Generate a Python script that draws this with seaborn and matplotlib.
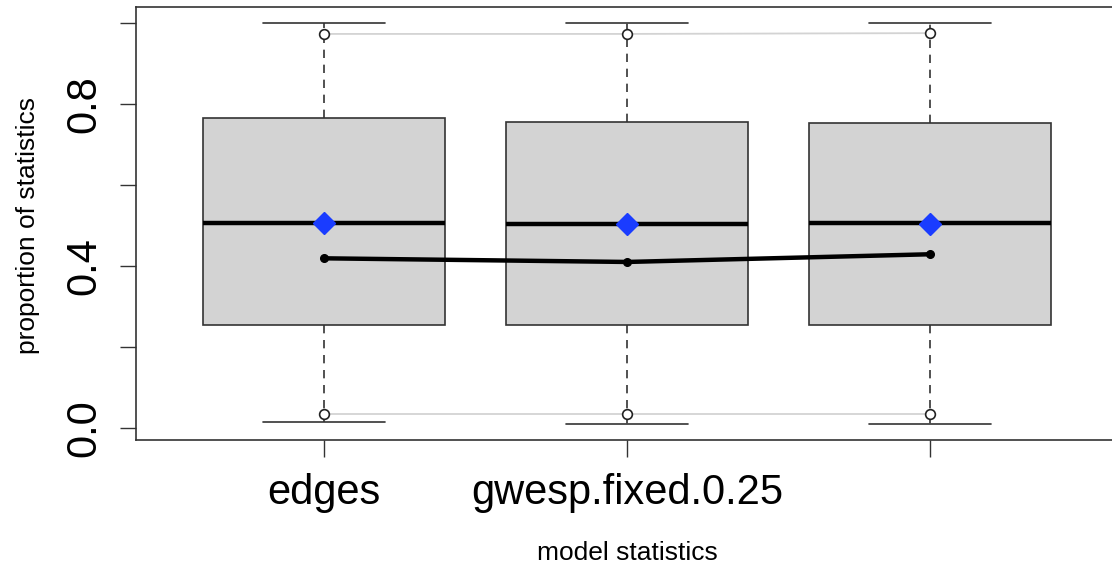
import numpy as np
import pandas as pd
import matplotlib
matplotlib.use('Agg')
import matplotlib.pyplot as plt
import seaborn as sns

# values
stats = ['edges', 'gwesp.fixed.0.25', 'stat3']
tick_labels = ['edges', 'gwesp.fixed.0.25', '']   # third label is dropped in the original
lower_whisker = [0.014, 0.010, 0.009]
q1 = [0.254, 0.254, 0.254]
median = [0.505, 0.504, 0.507]
q3 = [0.765, 0.755, 0.752]
upper_whisker = [1.0, 1.0, 1.0]
upper_band = [0.973, 0.973, 0.975]
lower_band = [0.034, 0.034, 0.034]
observed = [0.419, 0.410, 0.429]
diamond = [0.505, 0.504, 0.504]

# five points per stat give exactly those quartiles / whisker ends
rows = []
for i, s in enumerate(stats):
    for v in [lower_whisker[i], q1[i], median[i], q3[i], upper_whisker[i]]:
        rows.append({'stat': s, 'value': v})
df = pd.DataFrame(rows)

sns.set_style('white')
plt.rcParams['font.family'] = ['Liberation Sans', 'DejaVu Sans']
plt.rcParams['text.color'] = 'black'

fig = plt.figure(figsize=(11.12, 5.73), dpi=100)
ax = fig.add_axes([0.1223, 0.2321, 0.9029, 0.7557])

sns.boxplot(data=df, x='stat', y='value', order=stats, ax=ax, width=0.8,
            color='#d3d3d3', linecolor='#333333', linewidth=1.2,
            whis=np.inf, showfliers=False,
            boxprops=dict(facecolor='#d3d3d3', edgecolor='#333333'),
            whiskerprops=dict(linestyle=(0, (5, 4)), color='#333333'),
            capprops=dict(color='#333333'),
            medianprops=dict(color='black', linewidth=3.2))

xs = np.arange(len(stats))
ax.plot(xs, upper_band, color='#d3d3d3', lw=1.3, zorder=3)
ax.plot(xs, lower_band, color='#d3d3d3', lw=1.3, zorder=3)
ax.plot(xs, upper_band, 'o', ms=7, mfc='white', mec='#222222', mew=1.2, lw=0, zorder=4)
ax.plot(xs, lower_band, 'o', ms=7, mfc='white', mec='#222222', mew=1.2, lw=0, zorder=4)
ax.plot(xs, observed, color='black', lw=3.2, marker='o', ms=5.5, zorder=5)
ax.plot(xs, diamond, 'D', color='#1a3cff', ms=11.5, lw=0, zorder=6)

ax.set_xlim(-0.62, 2.693)
ax.set_ylim(-0.0296, 1.0395)
ax.set_yticks([0.0, 0.2, 0.4, 0.6, 0.8, 1.0])
ax.set_yticklabels(['0.0', '', '0.4', '', '0.8', ''], rotation=90, va='center')
ax.set_xticks(xs)
ax.set_xticklabels(tick_labels)
ax.tick_params(axis='y', left=True, length=11.5, width=1.0, color='#333333',
               pad=11, labelsize=30, labelcolor='black')
ax.tick_params(axis='x', bottom=True, length=12, width=1.0, color='#333333',
               pad=12, labelsize=30, labelcolor='black')

for side in ['left', 'top', 'bottom']:
    ax.spines[side].set_visible(True)
    ax.spines[side].set_color('#333333')
    ax.spines[side].set_linewidth(1.2)
ax.spines['right'].set_visible(False)

ax.set_xlabel('')
ax.set_ylabel('')
fig.text(627 / 1112, 1 - 553 / 573, 'model statistics', fontsize=19, ha='center', va='center')
fig.text(28 / 1112, 1 - 225 / 573, 'proportion of statistics', fontsize=19,
         ha='center', va='center', rotation=90)

fig.savefig('out.png', dpi=100)
